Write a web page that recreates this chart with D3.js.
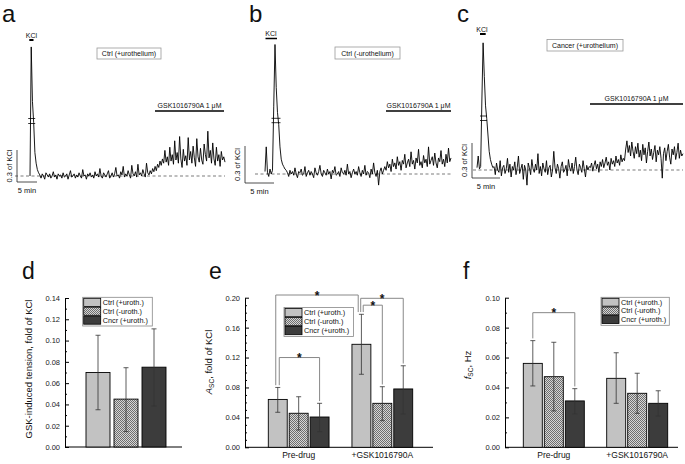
<!DOCTYPE html>
<html><head><meta charset="utf-8">
<script src="https://cdn.jsdelivr.net/npm/d3@7"></script>
<style>body{margin:0;background:#fff}svg{display:block}text{font-family:"Liberation Sans",Arial,sans-serif}</style>
</head><body><svg id="c" width="685" height="464"></svg>
<script>
// ---------------- DATA ----------------
// Tension traces, in % of KCl response (0.01 fold of KCl), equally spaced samples
const traceA=[0,121,70,50,22,12,6,3,
1,-2,2,0,-3,3,1,-1,2,-2,0,4,-1,1,-3,2,0,1,-2,3,-1,0,2,-3,1,5,-1,0,2,-2,
1,-1,3,0,-2,6,0,1,-3,2,0,3,-1,1,-2,4,0,2,-1,7,0,-2,3,1,-1,2,5,-2,0,3,
-1,2,8,0,1,-2,4,1,9,-1,2,0,5,1,-2,10,2,0,4,-1,11,1,3,0,6,2,-1,12,3,1,5,
2,7,4,9,5,11,8,14,10,
16,12,24,13,18,10,27,14,20,11,33,15,22,12,37,16,8,25,14,19,10,36,15,23,12,28,17,9,35,18,13,26,15,11,30,20,14,42,17,24,12,31,16,10,27,14,20,9,23,15,18,13];
const traceB=[2,22,1,-2,4,0,3,55,105,70,50,40,22,12,8,6,4,3,
1,-2,3,0,2,-1,5,0,-3,2,1,4,-1,0,6,-2,1,3,-1,2,0,-3,5,1,-1,2,7,0,-2,3,
1,-1,4,0,2,-4,3,1,6,-1,0,2,-2,5,1,0,3,-1,8,0,2,-3,1,4,0,2,-1,6,1,-2,
3,0,7,-1,2,1,-3,4,0,9,1,-2,3,-9,2,5,0,3,
6,3,10,5,8,2,12,6,9,4,14,7,10,3,11,8,16,5,9,12,6,18,8,11,4,13,9,20,7,10,
5,15,9,12,6,22,8,11,14,7,17,9,5,13,10,19,8,12,6,16,9,21,10,13];
const traceC=[2,12,1,3,60,109,80,55,44,30,16,9,5,2,
3,-4,6,0,-2,8,-5,2,4,-3,1,10,-2,5,-6,3,0,7,-4,2,12,-3,1,5,-8,4,0,-13,6,2,
-4,9,1,-2,5,0,14,-3,3,-5,6,1,-2,8,-4,2,4,-6,0,16,2,-3,5,1,-7,3,7,-2,0,4,
-5,9,2,-1,6,-3,3,11,0,-4,5,2,-2,8,1,-6,4,0,3,
2,6,-1,4,8,1,5,-2,7,3,9,2,6,11,4,7,0,10,5,8,3,12,6,9,4,13,7,10,8,
18,25,15,21,12,24,16,10,20,14,23,11,17,8,22,13,19,6,16,24,
12,18,9,15,21,7,17,13,20,10,-7,14,19,8,16,22,11,5,18,13,20,9,15,23,10,17,12,14];
const traceNames=["Ctrl (+urothelium)","Ctrl (-urothelium)","Cancer (+urothelium)"];
const drugText="GSK1016790A 1 \u03bcM";
const kclText="KCl";
const scaleTimeMin=5, scaleAmp=30; // 5 min, 0.3 of KCl

const seriesNames=["Ctrl (+uroth.)","Ctrl (-uroth.)","Cncr (+uroth.)"];
const conditions=["Pre-drug","+GSK1016790A"];
// d: GSK-induced tension
const tensionMean=[0.070,0.045,0.075];
const tensionLo=[0.035,0.0145,0.0385];
const tensionHi=[0.105,0.0745,0.111];
// e: A_SC (rows: conditions, cols: series)
const ascMean=[[0.064,0.0455,0.0405],[0.1377,0.0588,0.078]];
const ascLo=[[0.0468,0.0231,0.0209],[0.0976,0.0356,0.0445]];
const ascHi=[[0.080,0.0676,0.0588],[0.1778,0.081,0.109]];
// f: f_SC
const fscMean=[[0.0561,0.0472,0.031],[0.0461,0.0361,0.0294]];
const fscLo=[[0.041,0.0243,0.0223],[0.0294,0.0227,0.0209]];
const fscHi=[[0.0713,0.0702,0.0392],[0.0632,0.0495,0.0378]];
const dTicks=[0,0.02,0.04,0.06,0.08,0.10,0.12,0.14];
const eTicks=[0,0.04,0.08,0.12,0.16,0.20];
const fTicks=[0,0.02,0.04,0.06,0.08,0.10];
// significance brackets: [condA, seriesA, condB, seriesB, level]
const ascSig=[[0,0,0,2,0.120],[0,0,1,0,0.2036],[1,0,1,2,0.1992],[1,0,1,1,0.190]];
const fscSig=[[0,0,0,2,0.090]];

// ---------------- DRAWING ----------------
const svg=d3.select("#c");
const FONT='"Liberation Sans", Arial, sans-serif';
const fills=["#c2c2c2","url(#chk)","#3c3c3c"];
const defs=svg.append("defs");
const pat=defs.append("pattern").attr("id","chk").attr("width",2).attr("height",2).attr("patternUnits","userSpaceOnUse");
pat.append("rect").attr("width",2).attr("height",2).attr("fill","#d6d6d6");
pat.append("rect").attr("width",1).attr("height",1).attr("fill","#6e6e6e");
pat.append("rect").attr("x",1).attr("y",1).attr("width",1).attr("height",1).attr("fill","#6e6e6e");

function txt(x,y,s,size,anchor){
  return svg.append("text").attr("x",x).attr("y",y).attr("font-size",size).attr("text-anchor",anchor||"start").attr("fill","#111").text(s);
}

// ---- trace panels ----
const tracePanels=[
 {data:traceA,name:traceNames[0],label:"a",lx:2,ly:22,x0:30,x1:225,pxPerMin:4,base:176,ampPx:32,sbx:17,sbBottom:182,sbLabelX:12,
  dash:[15,225],kcl:{cx:31.5,ty:37.5,by:40,x0:29.3,x1:33.5,w:2},drug:{x0:155,x1:224,y:111,ty:108},box:{x:97,y:48,w:64,h:11},brk:{cx:31.7,y1:118.5,y2:123.5,h:3.5}},
 {data:traceB,name:traceNames[1],label:"b",lx:249,ly:22,x0:265,x1:451,pxPerMin:5.8,base:174,ampPx:37,sbx:245,sbBottom:183,sbLabelX:240,
  dash:[255,451],kcl:{cx:271,ty:36,by:38.5,x0:265.5,x1:277,w:1.5},drug:{x0:386,x1:451,y:111,ty:107.5},box:{x:335,y:47,w:65,h:12},brk:{cx:276,y1:118.3,y2:122.7,h:4.5}},
 {data:traceC,name:traceNames[2],label:"c",lx:457,ly:22,x0:477,x1:683,pxPerMin:5.6,base:170,ampPx:35,sbx:472,sbBottom:178,sbLabelX:467,
  dash:[473,683],kcl:{cx:482,ty:31.5,by:34,x0:480,x1:485.7,w:2},drug:{x0:590,x1:683,y:104,ty:101},box:{x:547,y:39.5,w:76,h:11.5},brk:{cx:483.5,y1:116,y2:120.5,h:3.5}}
];
tracePanels.forEach(o=>{
  const n=o.data.length, minutes=(o.x1-o.x0)/o.pxPerMin;
  const x=d3.scaleLinear([0,minutes],[o.x0,o.x1]);
  const y=d3.scaleLinear([0,scaleAmp],[o.base,o.base-o.ampPx]);
  const line=d3.line().x((d,i)=>x(i*minutes/(n-1))).y(d=>y(d));
  svg.append("line").attr("x1",o.dash[0]).attr("x2",o.dash[1]).attr("y1",y(0)).attr("y2",y(0))
     .attr("stroke","#444").attr("stroke-width",0.7).attr("stroke-dasharray","3,2.5");
  svg.append("path").attr("d",line(o.data)).attr("fill","none").attr("stroke","#000").attr("stroke-width",0.9).attr("stroke-linejoin","round");
  [o.brk.y1,o.brk.y2].forEach(yy=>svg.append("line").attr("x1",o.brk.cx-o.brk.h).attr("x2",o.brk.cx+o.brk.h).attr("y1",yy).attr("y2",yy).attr("stroke","#000").attr("stroke-width",0.8));
  const sx=d3.scaleLinear([0,scaleTimeMin],[o.sbx,o.sbx+scaleTimeMin*o.pxPerMin]);
  const sy=d3.scaleLinear([0,scaleAmp],[o.sbBottom,o.sbBottom-o.ampPx]);
  svg.append("path").attr("d",`M${sx(0)},${sy(scaleAmp)}V${sy(0)}H${sx(scaleTimeMin)}`).attr("fill","none").attr("stroke","#222").attr("stroke-width",0.8);
  txt((sx(0)+sx(scaleTimeMin))/2,o.sbBottom+11,"5 min",7.5,"middle");
  svg.append("text").attr("transform",`translate(${o.sbLabelX},${sy(scaleAmp/2)}) rotate(-90)`).attr("text-anchor","middle")
     .attr("font-size",7.5).attr("fill","#111").text("0.3 of KCl");
  txt(o.kcl.cx,o.kcl.ty,kclText,7,"middle");
  svg.append("line").attr("x1",o.kcl.x0).attr("x2",o.kcl.x1).attr("y1",o.kcl.by).attr("y2",o.kcl.by).attr("stroke","#000").attr("stroke-width",o.kcl.w);
  svg.append("line").attr("x1",o.drug.x0).attr("x2",o.drug.x1).attr("y1",o.drug.y).attr("y2",o.drug.y).attr("stroke","#000").attr("stroke-width",1.6);
  txt((o.drug.x0+o.drug.x1)/2,o.drug.ty,drugText,7,"middle");
  svg.append("rect").attr("x",o.box.x).attr("y",o.box.y).attr("width",o.box.w).attr("height",o.box.h).attr("fill","#fff").attr("stroke","#999").attr("stroke-width",0.8);
  txt(o.box.x+o.box.w/2,o.box.y+o.box.h-3,o.name,7,"middle");
  txt(o.lx,o.ly,o.label,24,"start");
});

// ---- bar panels ----
function yAxis(o,y,ticks){
  const g=svg.append("g").attr("transform",`translate(${o.axisX},0)`)
    .call(d3.axisLeft(y).tickValues(ticks).tickFormat(d3.format(".2f")).tickSize(-4).tickSizeOuter(0).tickPadding(5));
  g.selectAll("text").attr("font-size",7.5).attr("font-family",FONT).attr("fill","#222");
  g.selectAll("line").attr("stroke","#000");
  g.select(".domain").attr("stroke","#000");
  const minor=d3.range(0,Math.round(o.yMax/0.01)+1).map(i=>i*0.01).filter(v=>!ticks.some(t=>Math.abs(t-v)<1e-6));
  const m=svg.append("g").attr("transform",`translate(${o.axisX},0)`)
    .call(d3.axisLeft(y).tickValues(minor).tickFormat("").tickSize(-2).tickSizeOuter(0));
  m.select(".domain").remove();
  m.selectAll("line").attr("stroke","#000");
  svg.append("line").attr("x1",o.axisX).attr("x2",o.xEnd).attr("y1",y(0)).attr("y2",y(0)).attr("stroke","#000").attr("stroke-width",1);
}
function legend(x,y,w,h){
  svg.append("rect").attr("x",x).attr("y",y).attr("width",w).attr("height",h).attr("fill","#fff").attr("stroke","#888").attr("stroke-width",0.8);
  const rh=(h-2)/3;
  seriesNames.forEach((s,i)=>{
    svg.append("rect").attr("x",x+1).attr("y",y+1+i*rh).attr("width",17).attr("height",rh-0.8).attr("fill",fills[i]).attr("stroke","#000").attr("stroke-width",0.8);
    txt(x+20,y+1+i*rh+rh-2.2,s,7.3,"start");
  });
}
function bars(xb,y,means,los,his,offset){
  means.forEach((v,i)=>{
    const x0=offset+xb(seriesNames[i]), bw=xb.bandwidth(), cx=x0+bw/2;
    svg.append("rect").attr("x",x0).attr("y",y(v)).attr("width",bw).attr("height",y(0)-y(v)).attr("fill",fills[i]).attr("stroke","#000").attr("stroke-width",0.9);
    svg.append("path").attr("d",`M${cx-2.5},${y(his[i])}H${cx+2.5}M${cx},${y(his[i])}V${y(los[i])}M${cx-2.5},${y(los[i])}H${cx+2.5}`)
       .attr("fill","none").attr("stroke","#333").attr("stroke-width",0.8);
  });
}
function yTitle(x,y,parts){
  const t=svg.append("text").attr("transform",`translate(${x},${y}) rotate(-90)`).attr("text-anchor","middle").attr("font-size",9.5).attr("fill","#111");
  parts.forEach(p=>{const s=t.append("tspan").text(p.t); if(p.i)s.attr("font-style","italic"); if(p.sub)s.attr("font-size",6.5).attr("dy",2); if(p.back)s.attr("dy",-2);});
}

// d
{
  const o={axisX:65,xEnd:182,yMax:0.14};
  const y=d3.scaleLinear([0,0.14],[447,298]);
  yAxis(o,y,dTicks);
  const xb=d3.scaleBand(seriesNames,[86,166]).paddingInner(4/28).paddingOuter(0);
  bars(xb,y,tensionMean,tensionLo,tensionHi,0);
  legend(82.7,297.3,69.6,28.7);
  yTitle(32,369,[{t:"GSK-induced tension, fold of KCl"}]);
  txt(22,279,"d",23,"start");
}
function groupedPanel(o,means,los,his,ticks,sig){
  const y=d3.scaleLinear([0,o.yMax],[447.3,297.7]);
  yAxis(o,y,ticks);
  const xc=d3.scaleBand(conditions,o.range).paddingInner(o.pad).paddingOuter(0);
  const xb=d3.scaleBand(seriesNames,[0,xc.bandwidth()]).paddingInner(2/21).paddingOuter(0);
  conditions.forEach((c,ci)=>bars(xb,y,means[ci],los[ci],his[ci],xc(c)));
  const ax=svg.append("g").attr("transform",`translate(0,${y(0)})`).call(d3.axisBottom(xc).tickSize(0).tickPadding(4.5));
  ax.select(".domain").remove();
  ax.selectAll("text").attr("font-size",8.5).attr("font-family",FONT).attr("fill","#111");
  const used={};
  sig.forEach(([ca,sa,cb,sb,lvl])=>{
    const key=(c,s)=>c+"_"+s;
    const off=(c,s)=>{const k=key(c,s);used[k]=(used[k]||0)+1;return used[k];};
    const ka=off(ca,sa), kb=off(cb,sb);
    const shiftA=o.legShift[key(ca,sa)+"_"+ka]||0, shiftB=o.legShift[key(cb,sb)+"_"+kb]||0;
    const xa=xc(conditions[ca])+xb(seriesNames[sa])+xb.bandwidth()/2+shiftA;
    const xB=xc(conditions[cb])+xb(seriesNames[sb])+xb.bandwidth()/2+shiftB;
    const ya=y(his[ca][sa]+0.003*o.yMax/0.2), yb=y(his[cb][sb]+0.003*o.yMax/0.2), yl=y(lvl);
    svg.append("path").attr("d",`M${xa},${ya}V${yl}H${xB}V${yb}`).attr("fill","none").attr("stroke","#888").attr("stroke-width",1);
    txt((xa+xB)/2,yl+4.5,"*",12,"middle").attr("font-weight","bold");
  });
}
// e
groupedPanel({axisX:245,xEnd:433,yMax:0.20,range:[268.3,412.7],pad:23/84,
  legShift:{"0_0_1":1.5,"0_0_2":-2,"1_0_1":-3.2,"1_0_2":-0.7,"1_0_3":1.8}},ascMean,ascLo,ascHi,eTicks,ascSig);
legend(284,307.5,69.5,29);
yTitle(212,362,[{t:"A",i:true},{t:"SC",sub:true},{t:", fold of KCl",back:true}]);
txt(209,279,"e",23,"start");
// f
groupedPanel({axisX:505,xEnd:678,yMax:0.10,range:[523.3,667.7],pad:22.4/83.4,legShift:{}},fscMean,fscLo,fscHi,fTicks,fscSig);
legend(601,297.3,68.3,28);
yTitle(471,365,[{t:"f",i:true},{t:"SC",sub:true},{t:", Hz",back:true}]);
txt(463,279,"f",23,"start");
</script></body></html>
